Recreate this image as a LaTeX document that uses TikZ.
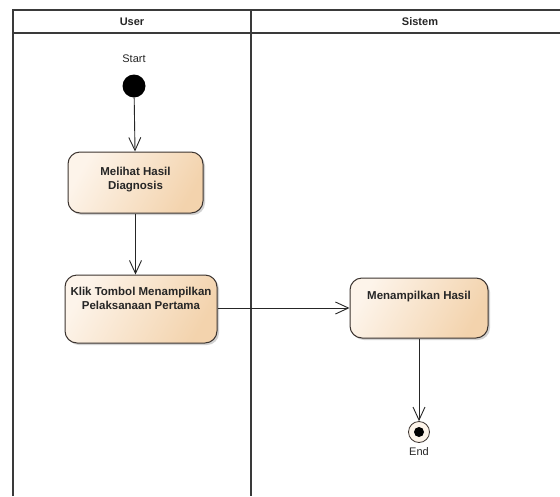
\documentclass[tikz,border=0pt]{standalone}
\usepackage{fontspec}
\setmainfont{Liberation Sans}
\usetikzlibrary{arrows.meta,shadows}
\definecolor{lanegray}{HTML}{3A3A3A}
\definecolor{boxedge}{HTML}{3C3430}
\definecolor{boxlight}{HTML}{FDF4EA}
\definecolor{boxdark}{HTML}{F3D3AD}
\definecolor{flowline}{HTML}{262626}
\tikzset{
  lane/.style={draw=lanegray, line width=1.4pt},
  headtext/.style={font=\fontsize{11}{13}\selectfont\bfseries, text=black!85},
  actbox/.style={draw=boxedge, line width=1pt, rounded corners=12pt,
    left color=boxlight, right color=boxdark, shading angle=60,
    drop shadow={shadow xshift=2pt, shadow yshift=-2pt, opacity=0.35, fill=black!50},
    inner sep=0pt},
  acttext/.style={font=\fontsize{11.5}{14}\selectfont\bfseries, text=black!85,
    align=center, anchor=north},
  smalltext/.style={font=\fontsize{11}{13}\selectfont, text=black!85},
  flow/.style={draw=flowline, line width=0.9pt,
    -{Straight Barb[length=13pt, width=12pt, line width=0.9pt]}},
}
\begin{document}
\begin{tikzpicture}[x=1pt, y=-1pt]
  \useasboundingbox[fill=white] (0,0) rectangle (560,496);

  % swimlane frame
  \draw[lane] (13,496) -- (13,10) -- (560,10);
  \draw[lane] (13,33) -- (560,33);
  \draw[lane] (251,10) -- (251,496);
  \node[headtext] (hUser) at (132,21.5) {User};
  \node[headtext] (hSistem) at (420,21.5) {Sistem};

  % initial node
  \node[smalltext] (startlbl) at (134,59) {Start};
  \node[circle, fill=black, minimum size=23pt, inner sep=0pt] (start) at (134,86) {};

  % actions
  \node[actbox, minimum width=135pt, minimum height=61pt] (a1) at (135.5,182.5) {};
  \node[acttext] (a1t) at ([yshift=-12pt]a1.north) {Melihat Hasil\\Diagnosis};

  \node[actbox, minimum width=152pt, minimum height=68pt] (a2) at (141,309) {};
  \node[acttext] (a2t) at ([yshift=-9pt]a2.north) {Klik Tombol Menampilkan\\Pelaksanaan Pertama};

  \node[actbox, minimum width=138pt, minimum height=60pt] (a3) at (419,308) {};
  \node[acttext] (a3t) at ([yshift=-10pt]a3.north) {Menampilkan Hasil};

  % final node
  \node[circle, draw=boxedge, line width=0.8pt, fill=boxlight, minimum size=21pt, inner sep=0pt] (final) at (419,432) {};
  \node[circle, fill=black, minimum size=10pt, inner sep=0pt] (finaldot) at (final.center) {};
  \node[smalltext] (endlbl) at (419,452) {End};

  % control flows
  \draw[flow] (start) -- (a1);
  \draw[flow] (a1) -- (a2.north -| a1.south);
  \draw[flow] (a2.east |- a3.west) -- (a3.west);
  \draw[flow] (a3) -- (final);
\end{tikzpicture}
\end{document}
